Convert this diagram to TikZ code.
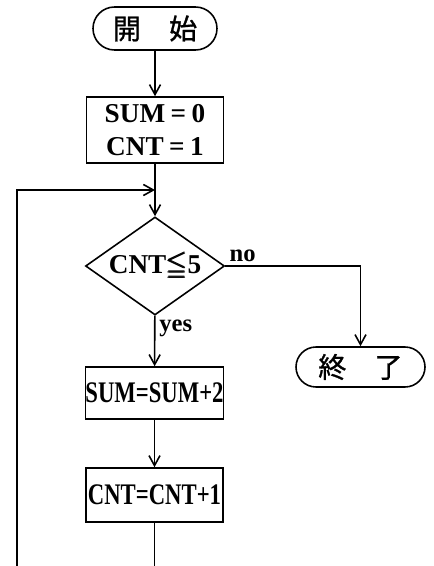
\documentclass[tikz,border=0pt]{standalone}
\usepackage{amsmath,amssymb}
\usepackage{graphicx}
\usepackage{fontspec}
\setmainfont{Liberation Serif}
\newfontfamily\jpfont[FakeBold=1]{Noto Sans CJK JP}
\usetikzlibrary{arrows.meta}
\usetikzlibrary{shapes.geometric,shapes.misc}

\begin{document}
\begin{tikzpicture}[>={Straight Barb[length=2mm,width=2.2mm]},line width=0.9pt,
		font=\bfseries,
		term/.style={draw,rounded rectangle,inner sep=0pt,font=\jpfont\fontsize{16}{18}\selectfont},
		box/.style={draw,rectangle,inner sep=0pt,minimum width=2.74cm},
		decision/.style={draw,diamond,aspect=1.42,inner sep=0pt,minimum width=2.78cm,minimum height=1.96cm},
		lbl/.style={inner sep=2pt,font=\bfseries\fontsize{14}{16}\selectfont}]
		
		% Page frame (bottom of the loop is cut off)
		\clip (0,0) rectangle (8.66,-11.32);
		
		% Terminals
		\node[term,minimum width=2.48cm,minimum height=0.86cm] (start) at (3.10,-0.57) {開\hspace{1em}始};
		\node[term,minimum width=2.58cm,minimum height=0.80cm] (stop) at (7.21,-7.34) {終\hspace{1em}了};
		
		% Processing boxes
		\node[box,minimum height=1.32cm,align=center,font=\bfseries\fontsize{15.5}{18.5}\selectfont] (init) at (3.10,-2.60)
		{SUM\hspace{0.2em}=\hspace{0.2em}0\\CNT\hspace{0.2em}=\hspace{0.2em}1};
		\node[box,minimum height=1.04cm,font=\bfseries\fontsize{17}{19}\selectfont] (addsum) at (3.09,-7.86)
		{\scalebox{0.76}[1]{SUM=SUM+2}};
		\node[box,minimum height=1.08cm,font=\bfseries\fontsize{17}{19}\selectfont] (inccnt) at (3.09,-9.90)
		{\scalebox{0.76}[1]{CNT=CNT+1}};
		
		% Condition
		\node[decision,font=\bfseries\fontsize{15.5}{18}\selectfont] (cond) at (3.10,-5.32) {CNT\pmb{$\leqq$}5};
		
		% Connectors
		\coordinate (merge) at (3.10,-3.80);
		\coordinate (loopcorner) at (0.34,-12.00);
		\draw[->] (start) -- (init);
		\draw[->] (init) -- (cond);
		\draw[->] (cond.east) -| (stop.north);
		\draw[->] (cond) -- (addsum);
		\draw[->] (addsum) -- (inccnt);
		\draw[->] (inccnt.south) |- (loopcorner) |- (merge);
		
		% Branch labels
		\node[lbl,above right] (nolbl) at (cond.east) {no};
		\node[lbl,below right] (yeslbl) at (cond.south) {yes};
		
	\end{tikzpicture}
\end{document}
